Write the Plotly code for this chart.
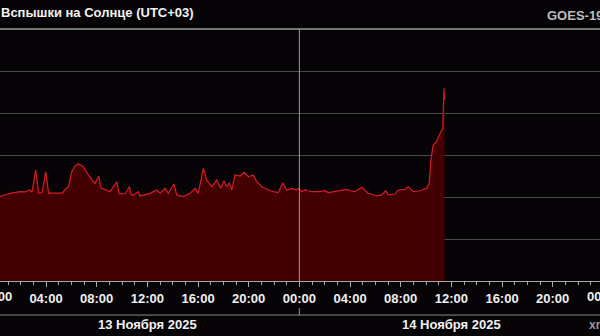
import pandas as pd
import plotly.graph_objects as go

# ---- data ----
day1_times = ["00:00", "00:22", "00:54", "01:10", "01:57", "02:21", "02:44", "02:54", "03:11", "03:25",
              "03:41", "03:59", "04:12", "04:43", "05:16", "05:38", "05:46", "06:02", "06:17", "06:33",
              "06:57", "07:20", "07:52", "08:10", "08:18", "08:24", "09:03", "09:35", "09:46", "10:14",
              "10:35", "10:43", "10:54", "11:17", "11:25", "12:13", "12:44", "13:00", "13:24", "13:39",
              "14:06", "14:19", "14:50", "15:22", "15:46", "16:01", "16:25", "16:41", "17:05", "17:29",
              "17:47", "18:03", "18:16", "18:28", "18:40", "18:55", "19:19", "19:39", "19:58", "20:22",
              "20:38", "21:02", "21:33", "21:57", "22:20", "22:41", "23:00", "23:24", "23:47", "23:58"]
day1_flux = [1.12e-6, 1.02e-6, 1.16e-6, 1.22e-6, 1.34e-6, 1.32e-6, 1.47e-6, 1.32e-6, 4.40e-6, 1.22e-6,
             1.28e-6, 4.00e-6, 1.24e-6, 1.22e-6, 1.24e-6, 1.64e-6, 1.76e-6, 4.00e-6, 5.47e-6, 6.11e-6,
             5.26e-6, 3.34e-6, 2.12e-6, 3.16e-6, 1.83e-6, 1.61e-6, 1.34e-6, 2.31e-6, 1.22e-6, 1.18e-6,
             1.76e-6, 1.12e-6, 1.12e-6, 1.34e-6, 1.06e-6, 1.22e-6, 1.47e-6, 1.24e-6, 1.61e-6, 1.22e-6,
             2.04e-6, 1.12e-6, 1.02e-6, 1.22e-6, 1.61e-6, 1.22e-6, 4.82e-6, 2.54e-6, 1.76e-6, 2.54e-6,
             1.61e-6, 2.44e-6, 1.76e-6, 2.19e-6, 1.47e-6, 3.34e-6, 3.16e-6, 3.87e-6, 3.04e-6, 3.34e-6,
             2.31e-6, 1.76e-6, 1.47e-6, 1.34e-6, 1.27e-6, 2.19e-6, 1.47e-6, 1.61e-6, 1.47e-6, 1.61e-6]

day2_times = ["00:11", "00:27", "00:41", "00:43", "00:45", "00:58", "01:30", "02:01", "02:17", "02:49",
              "03:20", "03:44", "04:00", "04:23", "04:55", "05:11", "05:26", "05:42", "06:06", "06:30",
              "06:49", "07:01", "07:33", "07:48", "08:20", "08:36", "08:59", "09:31", "10:03", "10:15",
              "10:23", "10:34", "10:50", "11:03", "11:19", "11:25", "11:28"]
day2_flux = [1.34e-6, 1.47e-6, 1.40e-6, None, 1.38e-6, 1.34e-6, 1.34e-6, 1.41e-6, 1.27e-6, 1.34e-6,
             1.41e-6, 1.52e-6, 1.41e-6, 1.34e-6, 1.70e-6, 1.41e-6, 1.22e-6, 1.18e-6, 1.06e-6, 1.12e-6,
             1.41e-6, 1.12e-6, 1.18e-6, 1.47e-6, 1.52e-6, 1.76e-6, 1.34e-6, 1.41e-6, 1.61e-6, 2.12e-6,
             7.60e-6, 1.73e-5, 2.07e-5, 2.99e-5, 4.32e-5, 3.87e-4, 2.04e-4]

day1_date = "2025-11-13"
day2_date = "2025-11-14"
day3_date = "2025-11-15"
date_labels = ["13 Ноября 2025", "14 Ноября 2025"]
edge_tick_label = "00:00"
title_text = "Вспышки на Солнце (UTC+03)"
source_text = "GOES-19"
site_text = "xras.ru"
x_range = ["2025-11-13 00:22", "2025-11-14 23:44"]

times = [f"{day1_date} {t}" for t in day1_times] + [f"{day2_date} {t}" for t in day2_times]
flux = day1_flux + day2_flux
floor = [1e-9] * len(times)

# paper-fraction of a date within the x range (for tick labels that sit just past the range edges)
r0, r1 = pd.Timestamp(x_range[0]), pd.Timestamp(x_range[1])
def frac(d):
    return (pd.Timestamp(d) - r0) / (r1 - r0)

BG = "#070407"
FONT = "Liberation Sans"
TICKFONT = dict(family=FONT, size=13, color="#f0f0f0", weight="bold")

fig = go.Figure()
fig.add_trace(go.Scatter(x=times, y=floor, mode="lines", line=dict(width=0, color=BG),
                         hoverinfo="skip", showlegend=False))
fig.add_trace(go.Scatter(x=times, y=flux, mode="lines", fill="tonexty", fillcolor="#420003",
                         line=dict(color="#d41c28", width=1.2), connectgaps=False, showlegend=False))

fig.update_layout(
    width=600, height=336,
    margin=dict(l=0, r=0, t=29, b=55),
    paper_bgcolor=BG, plot_bgcolor=BG,
    showlegend=False,
    xaxis=dict(
        type="date",
        range=x_range,
        dtick=4 * 3600 * 1000, tick0="2025-11-13 00:00",
        tickformat="%H:%M",
        ticks="outside", ticklen=5, tickwidth=1, tickcolor="#a8a8a8",
        minor=dict(dtick=3600 * 1000, ticks="outside", ticklen=3, tickcolor="#a8a8a8", showgrid=False),
        showgrid=False, zeroline=False,
        showline=True, linecolor="#a8a8a8", linewidth=1,
        tickfont=TICKFONT,
        fixedrange=True,
    ),
    yaxis=dict(
        type="log", range=[-8, -2], dtick=1,
        showgrid=True, gridcolor="#4a4a4a", gridwidth=1,
        showticklabels=False, ticks="", zeroline=False, showline=False,
        fixedrange=True,
    ),
    shapes=[
        dict(type="line", xref="paper", yref="paper", x0=0, x1=1, y0=1, y1=1,
             line=dict(color="#9a9a9a", width=1.5)),
        dict(type="line", xref="x", yref="paper", x0=f"{day2_date} 00:00", x1=f"{day2_date} 00:00",
             y0=0, y1=1, line=dict(color="#9a9a9a", width=1), layer="above"),
        dict(type="line", xref="x", yref="paper", x0=f"{day2_date} 00:00", x1=f"{day2_date} 00:00",
             y0=-0.108, y1=-0.135, line=dict(color="#9a9a9a", width=1)),
        dict(type="line", xref="paper", yref="paper", x0=0, x1=1, y0=-0.135, y1=-0.135,
             line=dict(color="#8a8a8a", width=1)),
    ],
    annotations=[
        dict(text=title_text, xref="paper", yref="paper", x=0, y=1.0635, xanchor="left", yanchor="middle",
             xshift=-1, showarrow=False, font=dict(family=FONT, size=13, color="#f2f2f2", weight="bold")),
        dict(text=source_text, xref="paper", yref="paper", x=0.908, y=1.0516, xanchor="left", yanchor="middle",
             showarrow=False, font=dict(family=FONT, size=13, color="#bdbdbd", weight="bold")),
        dict(text=date_labels[0], xref="x", yref="paper", x=f"{day1_date} 12:00", y=-0.171,
             xanchor="center", yanchor="middle", showarrow=False, font=TICKFONT),
        dict(text=date_labels[1], xref="x", yref="paper", x=f"{day2_date} 12:00", y=-0.171,
             xanchor="center", yanchor="middle", showarrow=False, font=TICKFONT),
        dict(text=edge_tick_label, xref="paper", yref="paper", x=frac(f"{day1_date} 00:00"), y=-0.063,
             xanchor="center", yanchor="middle", showarrow=False, font=TICKFONT),
        dict(text=edge_tick_label, xref="paper", yref="paper", x=frac(f"{day3_date} 00:00"), y=-0.063,
             xanchor="center", yanchor="middle", showarrow=False, font=TICKFONT),
        dict(text=site_text, xref="paper", yref="paper", x=0.978, y=-0.175, xanchor="left", yanchor="middle",
             showarrow=False, font=dict(family=FONT, size=12, color="#9a9a9a", weight="bold")),
    ],
)

fig.write_html("out.html", config={"displayModeBar": False})
